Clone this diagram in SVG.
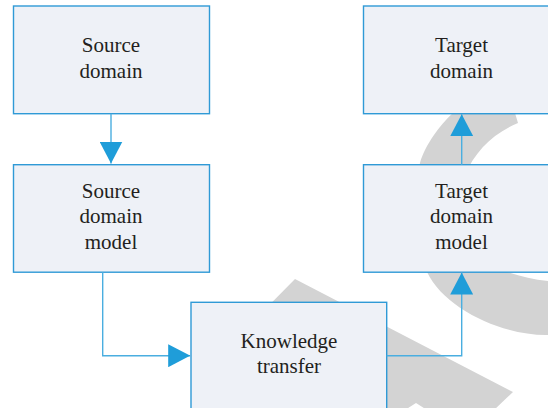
<svg xmlns="http://www.w3.org/2000/svg" width="548" height="408" viewBox="0 0 548 408">
  <style>
    .box { fill: #eef1f7; stroke: #2f9ad6; stroke-width: 1.4; }
    .lbl { font-family: "Liberation Serif", "Times New Roman", serif; font-size: 21px; fill: #231f20; text-anchor: middle; }
    .conn { fill: none; stroke: #4aaee0; stroke-width: 1.4; }
    .wm { fill: #d3d3d3; stroke: none; }
  </style>
  <defs>
    <marker id="arrow" markerUnits="userSpaceOnUse" viewBox="0 0 22 23" markerWidth="22" markerHeight="23" refX="22" refY="11.5" orient="auto">
      <path d="M0,0 L22,11.5 L0,23 Z" fill="#1f9dd9"/>
    </marker>
  </defs>
  <rect x="0" y="0" width="548" height="408" fill="#ffffff"/>

  <g id="watermark">
    <path class="wm" d="M458,100 L511,100 L515,113 L518,123 C492,134 475,152 465,175 C450,230 470,265 507,272 C525,278 540,281 560,282 L560,336 L548,335 C505,336 445,310 427,272 C415,240 413,190 420,163 C425,145 440,125 453,113 Z"/>
    <path class="wm" d="M295,279 L513,392 L494,410 L427,410 L416,403 L405,410 L200,410 L200,375 Z"/>
  </g>

  <g id="source-domain">
    <rect class="box" x="13.5" y="6" width="196" height="107.7"/>
    <text class="lbl" x="111" y="52.3">Source</text>
    <text class="lbl" x="111" y="77.7">domain</text>
  </g>
  <g id="source-domain-model">
    <rect class="box" x="13.5" y="164.7" width="196" height="107.5"/>
    <text class="lbl" x="111" y="198">Source</text>
    <text class="lbl" x="111" y="223">domain</text>
    <text class="lbl" x="111" y="248.5">model</text>
  </g>
  <g id="target-domain">
    <rect class="box" x="363.5" y="6" width="196" height="107.7"/>
    <text class="lbl" x="461.5" y="52.3">Target</text>
    <text class="lbl" x="461.5" y="77.7">domain</text>
  </g>
  <g id="target-domain-model">
    <rect class="box" x="363.5" y="164.7" width="196" height="107.5"/>
    <text class="lbl" x="461.5" y="198">Target</text>
    <text class="lbl" x="461.5" y="223">domain</text>
    <text class="lbl" x="461.5" y="248.5">model</text>
  </g>
  <g id="knowledge-transfer">
    <rect class="box" x="191" y="302.3" width="195.7" height="120"/>
    <text class="lbl" x="289" y="347.5">Knowledge</text>
    <text class="lbl" x="289" y="373">transfer</text>
  </g>

  <g id="connectors">
    <path class="conn" d="M111,113.7 V163.5" marker-end="url(#arrow)"/>
    <path class="conn" d="M102.7,272.2 V355.7 H190.2" marker-end="url(#arrow)"/>
    <path class="conn" d="M386.7,355.7 H461.7 V272.6" marker-end="url(#arrow)"/>
    <path class="conn" d="M461.7,164.7 V114.2" marker-end="url(#arrow)"/>
  </g>
</svg>
